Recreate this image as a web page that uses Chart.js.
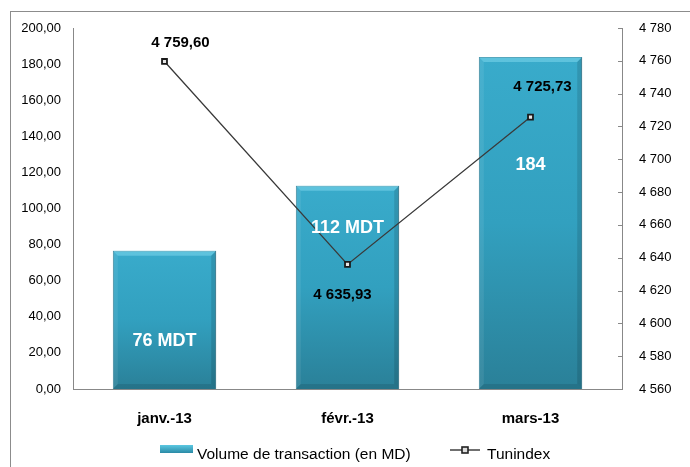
<!DOCTYPE html>
<html>
<head>
<meta charset="utf-8">
<script src="https://cdn.jsdelivr.net/npm/chart.js@4.4.1/dist/chart.umd.min.js"></script>
<style>
  html, body { margin: 0; padding: 0; background: #fff; }
  #wrap { width: 690px; height: 467px; }
</style>
</head>
<body>
<div id="wrap"><canvas id="volumeChart" width="690" height="467"></canvas></div>
<script>
const months = ['janv.-13', 'févr.-13', 'mars-13'];
const volumes = [76.6, 112.6, 184];
const volumeLabels = ['76 MDT', '112 MDT', '184'];
const tunindex = [4759.60, 4635.93, 4725.73];

// label offsets (px) relative to the bar top / the line point
const barLabelDy = [90, 42, 108];
const lineLabelDx = [16, -5, 12];
const lineLabelDy = [-19, 30, -30];

const FONT = '"Liberation Sans", Arial, sans-serif';

function frNum(v, d) {
    const parts = v.toFixed(d).split('.');
    const int = parts[0].replace(/\B(?=(\d{3})+(?!\d))/g, ' ');
    return parts[1] ? int + ',' + parts[1] : int;
}

function barGradient(context) {
    const chart = context.chart;
    const area = chart.chartArea;
    if (!area || context.parsed == null) return '#33a0be';
    const top = chart.scales.y.getPixelForValue(context.parsed.y);
    const g = chart.ctx.createLinearGradient(0, top, 0, area.bottom);
    g.addColorStop(0, '#39abcb');
    g.addColorStop(0.5, '#32a0bf');
    g.addColorStop(1, '#2a8098');
    return g;
}

const decorPlugin = {
    id: 'decor',
    afterDatasetDraw(chart, args) {
        if (args.index !== 0) return;
        const ctx = chart.ctx;
        const b = 5;
        chart.getDatasetMeta(0).data.forEach(bar => {
            const l = bar.x - bar.width / 2, r = bar.x + bar.width / 2;
            const t = bar.y, btm = bar.base;
            ctx.save();
            ctx.fillStyle = 'rgba(140,225,245,0.45)';
            ctx.beginPath();
            ctx.moveTo(l, t); ctx.lineTo(r, t); ctx.lineTo(r - b, t + b); ctx.lineTo(l + b, t + b);
            ctx.closePath(); ctx.fill();
            ctx.fillStyle = 'rgba(255,255,255,0.08)';
            ctx.beginPath();
            ctx.moveTo(l, t); ctx.lineTo(l + b, t + b); ctx.lineTo(l + b, btm - b); ctx.lineTo(l, btm);
            ctx.closePath(); ctx.fill();
            ctx.fillStyle = 'rgba(0,0,0,0.12)';
            ctx.beginPath();
            ctx.moveTo(r, t); ctx.lineTo(r - b, t + b); ctx.lineTo(r - b, btm - b); ctx.lineTo(r, btm);
            ctx.closePath(); ctx.fill();
            ctx.fillStyle = 'rgba(0,0,0,0.10)';
            ctx.beginPath();
            ctx.moveTo(l, btm); ctx.lineTo(l + b, btm - b); ctx.lineTo(r - b, btm - b); ctx.lineTo(r, btm);
            ctx.closePath(); ctx.fill();
            ctx.restore();
        });
    },
    afterDraw(chart) {
        const ctx = chart.ctx;
        const area = chart.chartArea;
        ctx.save();

        // outer frame
        ctx.strokeStyle = '#8c8c8c';
        ctx.lineWidth = 1;
        ctx.strokeRect(10.5, 11.5, 720, 500);

        // right axis tick marks pointing inward
        const y2 = chart.scales.y2;
        ctx.strokeStyle = '#888';
        y2.ticks.forEach(t => {
            const py = Math.round(y2.getPixelForValue(t.value)) + 0.5;
            ctx.beginPath();
            ctx.moveTo(area.right - 4, py);
            ctx.lineTo(area.right, py);
            ctx.stroke();
        });

        // bar labels
        ctx.textAlign = 'center';
        ctx.textBaseline = 'middle';
        ctx.fillStyle = '#ffffff';
        ctx.font = 'bold 18px ' + FONT;
        chart.getDatasetMeta(0).data.forEach((bar, i) => {
            ctx.fillText(volumeLabels[i], bar.x, bar.y + barLabelDy[i]);
        });

        // line labels
        ctx.fillStyle = '#000000';
        ctx.font = 'bold 15px ' + FONT;
        chart.getDatasetMeta(1).data.forEach((pt, i) => {
            ctx.fillText(frNum(tunindex[i], 2), pt.x + lineLabelDx[i], pt.y + lineLabelDy[i]);
        });

        // legend
        const ly = 450;
        const sw = ctx.createLinearGradient(0, ly - 5, 0, ly + 3);
        sw.addColorStop(0, '#5cc8e2');
        sw.addColorStop(1, '#2a8aa6');
        ctx.fillStyle = sw;
        ctx.fillRect(160, ly - 5, 33, 8);
        ctx.fillStyle = '#000';
        ctx.font = '15.5px ' + FONT;
        ctx.textAlign = 'left';
        ctx.fillText(chart.data.datasets[0].label, 197, ly + 5);

        ctx.strokeStyle = '#222';
        ctx.lineWidth = 1.3;
        ctx.beginPath();
        ctx.moveTo(450, ly); ctx.lineTo(480, ly);
        ctx.stroke();
        ctx.fillStyle = '#ddd';
        ctx.lineWidth = 1.6;
        ctx.fillRect(462, ly - 3, 6, 6);
        ctx.strokeRect(462, ly - 3, 6, 6);
        ctx.fillStyle = '#000';
        ctx.fillText(chart.data.datasets[1].label, 487, ly + 5);

        ctx.restore();
    }
};

new Chart(document.getElementById('volumeChart'), {
    type: 'bar',
    data: {
        labels: months,
        datasets: [{
            type: 'bar',
            label: 'Volume de transaction (en MD)',
            data: volumes,
            yAxisID: 'y',
            backgroundColor: barGradient,
            borderColor: '#2a7890',
            borderWidth: 1,
            categoryPercentage: 1,
            barPercentage: 0.565,
            order: 2
        }, {
            type: 'line',
            label: 'Tunindex',
            data: tunindex,
            yAxisID: 'y2',
            borderColor: '#3a3a3a',
            borderWidth: 1.3,
            pointStyle: 'rect',
            pointRadius: 3.5,
            pointBackgroundColor: '#e6e6e6',
            pointBorderColor: '#1a1a1a',
            pointBorderWidth: 1.8,
            tension: 0,
            order: 1
        }]
    },
    options: {
        responsive: false,
        animation: false,
        layout: { padding: { top: 28, left: 0, right: 0, bottom: 0 } },
        plugins: {
            legend: { display: false },
            tooltip: { enabled: false }
        },
        scales: {
            x: {
                grid: { display: false, drawTicks: false },
                border: { display: true, color: '#888' },
                ticks: {
                    padding: 21,
                    color: '#000',
                    font: { family: FONT, size: 15, weight: 'bold' }
                },
                afterFit(scale) { scale.height = 78; }
            },
            y: {
                position: 'left',
                min: 0,
                max: 200,
                grid: { display: false, drawTicks: false },
                border: { display: true, color: '#888' },
                ticks: {
                    stepSize: 20,
                    padding: 12,
                    color: '#000',
                    font: { family: FONT, size: 13 },
                    callback: v => frNum(v, 2)
                },
                afterFit(scale) { scale.width = 73; }
            },
            y2: {
                position: 'right',
                min: 4560,
                max: 4780,
                grid: { display: false, drawTicks: false },
                border: { display: true, color: '#888' },
                ticks: {
                    stepSize: 20,
                    padding: 17,
                    color: '#000',
                    font: { family: FONT, size: 13 },
                    callback: v => frNum(v, 0)
                },
                afterFit(scale) { scale.width = 68; }
            }
        }
    },
    plugins: [decorPlugin]
});
</script>
</body>
</html>
